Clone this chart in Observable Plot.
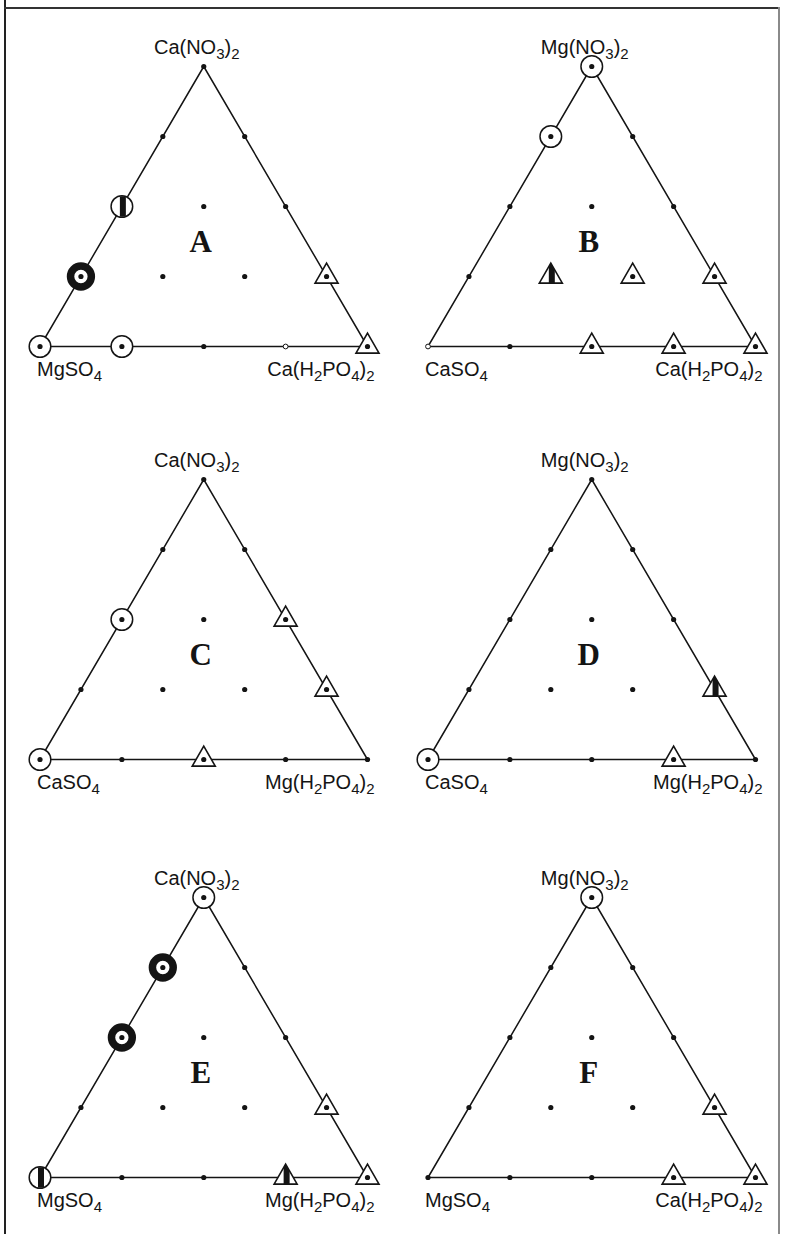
<!DOCTYPE html>
<html><head><meta charset="utf-8">
<script src="https://cdn.jsdelivr.net/npm/d3@7"></script>
<script src="https://cdn.jsdelivr.net/npm/@observablehq/plot@0.6"></script>
<style>
html,body{margin:0;padding:0;background:#fff;}
#page{position:relative;width:785px;height:1234px;overflow:hidden;background:#fff;}
.panel{position:absolute;}
.bl{position:absolute;left:4px;top:0;width:2px;height:1234px;background:#222;}
.bt{position:absolute;left:4px;top:7px;width:776px;height:1.5px;background:#333;}
.br{position:absolute;left:778px;top:7px;width:1.5px;height:1227px;background:#8a8a8a;}
</style></head><body>
<div id="page"><div class="bl"></div><div class="bt"></div><div class="br"></div></div>
<script>
// ---- data ----
const panelNames = ["A", "B", "C", "D", "E", "F"];
const apexLabels = ["Ca(NO3)2", "Mg(NO3)2", "Ca(NO3)2", "Mg(NO3)2", "Ca(NO3)2", "Mg(NO3)2"];
const leftLabels = ["MgSO4", "CaSO4", "CaSO4", "CaSO4", "MgSO4", "MgSO4"];
const rightLabels = ["Ca(H2PO4)2", "Ca(H2PO4)2", "Mg(H2PO4)2", "Mg(H2PO4)2", "Mg(H2PO4)2", "Ca(H2PO4)2"];
// marker at each of the 15 grid points, row by row from the apex (row i has i+1 points, left to right)
const markersA = ["dot", "dot","dot", "circleBar","dot","dot", "ring","dot","dot","tri", "circle","circle","dot","hollow","tri"];
const markersB = ["circle", "circle","dot", "dot","dot","dot", "dot","triBar","tri","tri", "hollow","dot","tri","tri","tri"];
const markersC = ["dot", "dot","dot", "circle","dot","tri", "dot","dot","dot","tri", "circle","dot","tri","dot","dot"];
const markersD = ["dot", "dot","dot", "dot","dot","dot", "dot","dot","dot","triBar", "circle","dot","dot","tri","dot"];
const markersE = ["circle", "ring","dot", "ring","dot","dot", "dot","dot","dot","tri", "circleBar","dot","dot","triBar","tri"];
const markersF = ["circle", "dot","dot", "dot","dot","dot", "dot","dot","dot","tri", "dot","dot","dot","tri","tri"];
const panelMarkers = [markersA, markersB, markersC, markersD, markersE, markersF];
const divisions = 4;

// ---- layout ----
const colLeft = [0, 388];
const rowTop = [1, 414, 832];
const W = 392, H = 413;

// ---- custom symbols ----
const S3 = Math.sqrt(3);
const triSymbol = {draw(ctx, size) {
  const R = Math.sqrt(size / Math.PI);
  ctx.moveTo(0, -R); ctx.lineTo(R * S3 / 2, R / 2); ctx.lineTo(-R * S3 / 2, R / 2); ctx.closePath();
}};
const triBarSymbol = {draw(ctx, size) {
  const R = Math.sqrt(size / Math.PI), a = -2, b = 4;
  ctx.moveTo(a, -R - a * S3); ctx.lineTo(0, -R); ctx.lineTo(b, -R + b * S3);
  ctx.lineTo(b, R / 2); ctx.lineTo(a, R / 2); ctx.closePath();
}};
const circleBarSymbol = {draw(ctx, size) {
  const R = Math.sqrt(size / Math.PI), a = -2, b = 4, n = 8;
  for (let k = 0; k <= n; k++) { const x = a + (b - a) * k / n; const y = -Math.sqrt(R * R - x * x); k ? ctx.lineTo(x, y) : ctx.moveTo(x, y); }
  for (let k = n; k >= 0; k--) { const x = a + (b - a) * k / n; ctx.lineTo(x, Math.sqrt(R * R - x * x)); }
  ctx.closePath();
}};

function gridPoints(markers) {
  const pts = []; let m = 0;
  for (let i = 0; i <= divisions; i++) for (let j = 0; j <= i; j++) {
    pts.push({x: 0.5 - i / (2 * divisions) + j / divisions, y: 1 - i / divisions, type: markers[m++]});
  }
  return pts;
}

// turn the digits of chemical formulas into lowered, smaller subscripts
function subscriptize(svg) {
  svg.querySelectorAll("text").forEach(t => {
    const s = t.textContent;
    if (!/\d/.test(s)) return;
    while (t.firstChild) t.removeChild(t.firstChild);
    let low = false;
    for (const p of s.match(/\d+|\D+/g)) {
      const ts = document.createElementNS("http://www.w3.org/2000/svg", "tspan");
      if (/\d/.test(p)) { ts.setAttribute("font-size", "15"); ts.setAttribute("dy", low ? "0" : "5"); low = true; }
      else { ts.setAttribute("dy", low ? "-5" : "0"); low = false; }
      ts.textContent = p; t.appendChild(ts);
    }
  });
}

const page = document.getElementById("page");
const ink = "#141414";
const labelFont = "Liberation Sans";
panelNames.forEach((name, k) => {
  const pts = gridPoints(panelMarkers[k]);
  const of = (...types) => pts.filter(d => types.includes(d.type));
  const corners = [{x: 0, y: 0}, {x: 0.5, y: 1}, {x: 1, y: 0}, {x: 0, y: 0}];
  const svg = Plot.plot({
    width: W, height: H,
    marginLeft: 39.5, marginRight: 25, marginTop: 65, marginBottom: 68,
    x: {domain: [0, 1], axis: null},
    y: {domain: [0, 1], axis: null},
    style: {background: "transparent", overflow: "visible"},
    marks: [
      Plot.line(corners, {x: "x", y: "y", stroke: ink, strokeWidth: 1.5}),
      Plot.dot(of("circle", "circleBar"), {x: "x", y: "y", r: 10.8, fill: "white", stroke: ink, strokeWidth: 1.5}),
      Plot.dot(of("ring"), {x: "x", y: "y", r: 10.4, fill: "white", stroke: ink, strokeWidth: 7.5}),
      Plot.dot(of("tri", "triBar"), {x: "x", y: "y", r: 13.3, symbol: triSymbol, fill: "white", stroke: ink, strokeWidth: 1.6}),
      Plot.dot(of("circleBar"), {x: "x", y: "y", r: 10.2, symbol: circleBarSymbol, fill: ink, stroke: "none"}),
      Plot.dot(of("triBar"), {x: "x", y: "y", r: 13.3, symbol: triBarSymbol, fill: ink, stroke: "none"}),
      Plot.dot(of("dot", "circle", "ring", "tri"), {x: "x", y: "y", r: 2.6, fill: ink, stroke: "none"}),
      Plot.dot(of("hollow"), {x: "x", y: "y", r: 2.4, fill: "white", stroke: ink, strokeWidth: 1}),
      Plot.text([apexLabels[k]], {x: 0.5, y: 1, text: d => d, dx: -7, dy: -19, textAnchor: "middle",
        fontFamily: labelFont, fontSize: 20, fill: ink}),
      Plot.text([leftLabels[k]], {x: 0, y: 0, text: d => d, dx: -3, dy: 23, textAnchor: "start",
        fontFamily: labelFont, fontSize: 20, fill: ink}),
      Plot.text([rightLabels[k]], {x: 1, y: 0, text: d => d, dx: 7, dy: 23, textAnchor: "end",
        fontFamily: labelFont, fontSize: 20, fill: ink}),
      Plot.text([name], {x: 0.5, y: 0.372, text: d => d, dx: -3, textAnchor: "middle",
        fontFamily: "Liberation Serif", fontWeight: "bold", fontSize: 31, fill: ink})
    ]
  });
  subscriptize(svg);
  const div = document.createElement("div");
  div.className = "panel";
  div.style.left = colLeft[k % 2] + "px";
  div.style.top = rowTop[Math.floor(k / 2)] + "px";
  div.appendChild(svg);
  page.appendChild(div);
});
</script>
</body></html>
